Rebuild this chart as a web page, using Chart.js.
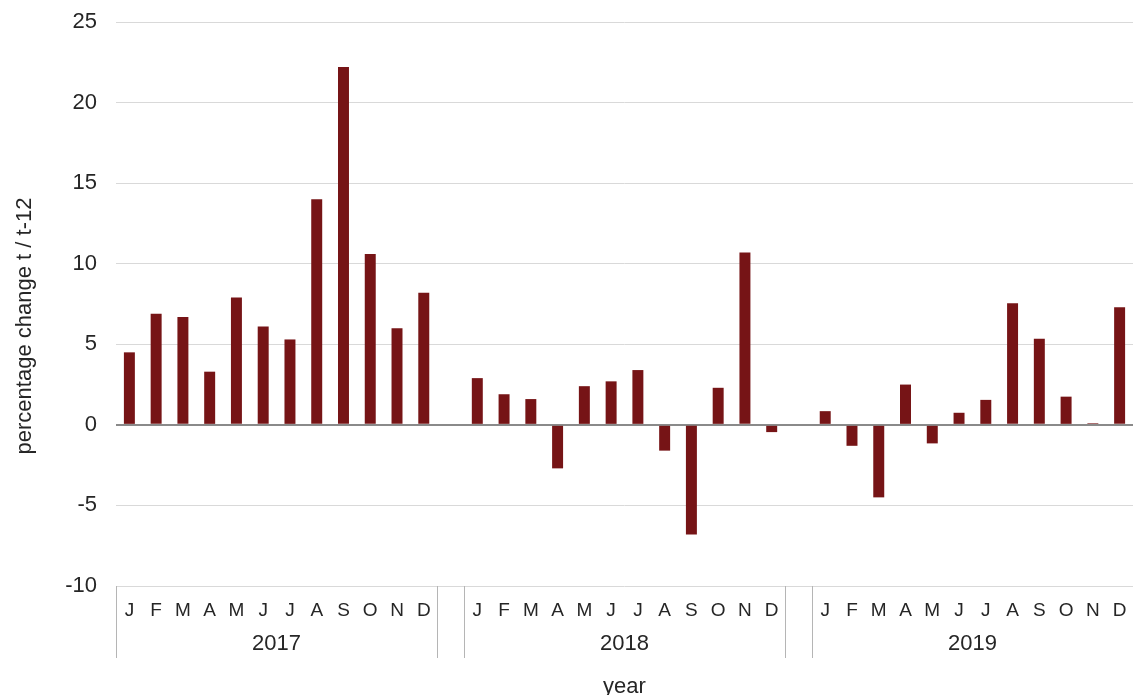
<!DOCTYPE html>
<html>
<head>
<meta charset="utf-8">
<script src="https://cdn.jsdelivr.net/npm/chart.js@4/dist/chart.umd.min.js"></script>
<style>
  html, body { margin: 0; padding: 0; background: #fff; }
  #wrap { width: 1133px; height: 695px; position: relative; }
</style>
</head>
<body>
<div id="wrap"><canvas id="chart"></canvas></div>
<script>
const months = ["J", "F", "M", "A", "M", "J", "J", "A", "S", "O", "N", "D"];
const years = ["2017", "2018", "2019"];
const values2017 = [4.5, 6.9, 6.7, 3.3, 7.9, 6.1, 5.3, 14.0, 22.2, 10.6, 6.0, 8.2];
const values2018 = [2.9, 1.9, 1.6, -2.7, 2.4, 2.7, 3.4, -1.6, -6.8, 2.3, 10.7, -0.45];
const values2019 = [0.85, -1.3, -4.5, 2.5, -1.15, 0.75, 1.55, 7.55, 5.35, 1.75, 0.1, 7.3];
const yTicks = [25, 20, 15, 10, 5, 0, -5, -10];
const yTitle = "percentage change t / t-12";

// one empty slot between the years
const labels = [];
const values = [];
[values2017, values2018, values2019].forEach((vals, i) => {
    if (i > 0) {
        labels.push("");
        values.push(null);
    }
    months.forEach((m, j) => {
        labels.push(m);
        values.push(vals[j]);
    });
});

const textColor = "#262626";
const fontFamily = "'Liberation Sans', Arial, sans-serif";

// year labels + separator lines under the month ticks, and the y title
const yearGroups = {
    id: "yearGroups",
    afterDraw(chart) {
        const {ctx, chartArea, scales} = chart;
        const x = scales.x;
        const step = x.getPixelForValue(1) - x.getPixelForValue(0);
        const top = chartArea.bottom;
        const bottom = 658;

        ctx.save();
        ctx.strokeStyle = "#b5b5b5";
        ctx.lineWidth = 1;
        const edges = [];
        years.forEach((y, i) => {
            const first = i * 13;
            const last = first + 11;
            edges.push(x.getPixelForValue(first) - step / 2);
            edges.push(x.getPixelForValue(last) + step / 2);
        });
        edges.forEach(px => {
            const p = Math.round(px) + 0.5;
            ctx.beginPath();
            ctx.moveTo(p, top);
            ctx.lineTo(p, bottom);
            ctx.stroke();
        });

        ctx.fillStyle = textColor;
        ctx.font = "22px " + fontFamily;
        ctx.textAlign = "center";
        ctx.textBaseline = "middle";
        years.forEach((y, i) => {
            const first = i * 13;
            const mid = (x.getPixelForValue(first + 5) + x.getPixelForValue(first + 6)) / 2;
            ctx.fillText(y, mid, 644);
        });

        ctx.translate(25, 326);
        ctx.rotate(-Math.PI / 2);
        ctx.fillText(yTitle, 0, 0);
        ctx.restore();
    }
};

new Chart(document.getElementById("chart"), {
    type: "bar",
    data: {
        labels,
        datasets: [{
            data: values,
            backgroundColor: "#761416",
            borderWidth: 0,
            categoryPercentage: 1,
            barPercentage: 0.41
        }]
    },
    options: {
        responsive: true,
        maintainAspectRatio: false,
        animation: false,
        layout: {
            padding: {top: 22, right: -4, bottom: -5, left: 0}
        },
        plugins: {
            legend: {display: false},
            tooltip: {enabled: false}
        },
        scales: {
            x: {
                grid: {display: false},
                border: {display: false},
                ticks: {
                    color: textColor,
                    font: {size: 19, family: fontFamily},
                    autoSkip: false,
                    maxRotation: 0,
                    padding: 5
                },
                title: {
                    display: true,
                    text: "year",
                    color: textColor,
                    font: {size: 22, family: fontFamily},
                    padding: {top: 0, bottom: 0}
                },
                afterFit: s => { s.height = 114; }
            },
            y: {
                min: -10,
                max: 25,
                afterBuildTicks: s => { s.ticks = yTicks.map(v => ({value: v})); },
                grid: {
                    color: c => c.tick && c.tick.value === 0 ? "#8a8a8a" : "#d9d9d9",
                    lineWidth: c => c.tick && c.tick.value === 0 ? 2 : 1,
                    drawTicks: false
                },
                border: {display: false},
                ticks: {
                    color: textColor,
                    font: {size: 22, family: fontFamily},
                    padding: 19
                },
                afterFit: s => {
                    s.width = 116;
                    s.paddingTop = 0;
                    s.paddingBottom = 0;
                }
            }
        }
    },
    plugins: [yearGroups]
});
</script>
</body>
</html>
